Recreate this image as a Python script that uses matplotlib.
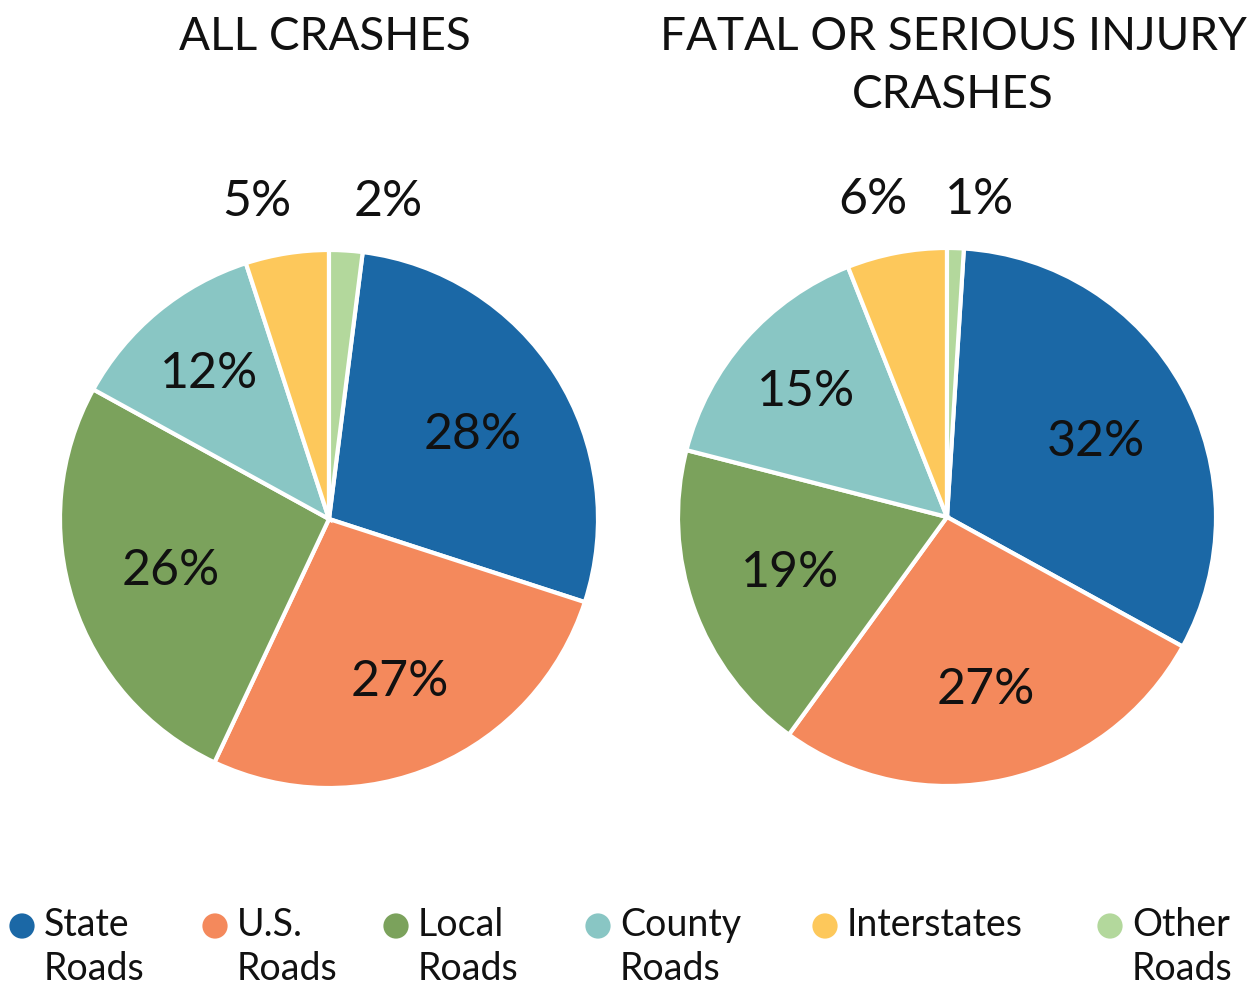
import numpy as np
import matplotlib.pyplot as plt

categories = ['State\nRoads', 'U.S.\nRoads', 'Local\nRoads', 'County\nRoads', 'Interstates', 'Other\nRoads']
all_crashes = [28, 27, 26, 12, 5, 2]
fatal_serious = [32, 27, 19, 15, 6, 1]
titles = ['ALL CRASHES', 'FATAL OR SERIOUS INJURY\nCRASHES']

colors = ['#1b68a6', '#f4895c', '#7ba25c', '#89c6c4', '#fdc85b', '#b3d89c']

plt.rcParams['font.family'] = ['Lato', 'DejaVu Sans']

W, H = 1252, 991
fig = plt.figure(figsize=(W / 100, H / 100), dpi=100)
ax = fig.add_axes([0, 0, 1, 1])

R = 269
centers = [(329, H - 519), (947, H - 517)]
title_pos = [(325, H - 37), (953, H - 66)]
# label distance (fraction of radius) per slice, outside ones get a fixed height
label_r = [0.62, 0.66, 0.62, 0.7, 1.2, 1.2]
label_shift = [[-2, 0, 0, 0, 4, -7], [-2, 0, 0, 0, 2.5, -4]]  # degrees

for k, vals in enumerate([all_crashes, fatal_serious]):
    vals = np.array(vals, dtype=float)
    cx, cy = centers[k]
    start = 90 - vals[-1] / vals.sum() * 360
    wedges, _ = ax.pie(vals, colors=colors, startangle=start, counterclock=False,
                       radius=R, center=(cx, cy), frame=True,
                       wedgeprops=dict(edgecolor='white', linewidth=3))
    for i, w in enumerate(wedges):
        mid = np.deg2rad((w.theta1 + w.theta2) / 2 + label_shift[k][i])
        r = label_r[i] * R
        x = cx + r * np.cos(mid)
        y = cy + r * np.sin(mid)
        if label_r[i] > 1:
            y = cy + 1.18 * R
        ax.text(x, y, '%d%%' % vals[i], ha='center', va='center',
                fontsize=36, color='#111111')
    ax.text(title_pos[k][0], title_pos[k][1], titles[k], ha='center', va='center',
            fontsize=33, color='#111111', linespacing=1.45)

ax.set_xlim(0, W)
ax.set_ylim(0, H)
ax.set_aspect('equal')
ax.axis('off')

# legend
leg_x = [22, 215, 396, 598, 825, 1110]
leg_y = H - 926
for i, lab in enumerate(categories):
    ax.scatter([leg_x[i]], [leg_y], s=330, color=colors[i], edgecolors='none')
    ax.text(leg_x[i] + 22, leg_y + 19, lab, ha='left', va='top', fontsize=27,
            color='#111111', linespacing=1.28)

fig.savefig('out.png', dpi=100)
